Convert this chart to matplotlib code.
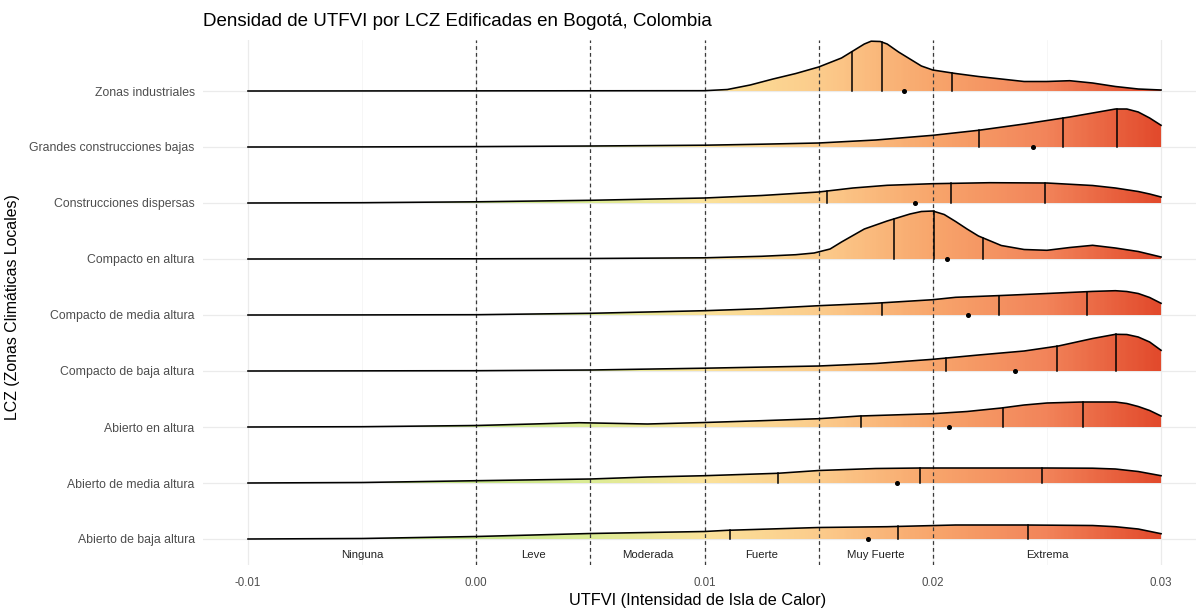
import numpy as np
import matplotlib.pyplot as plt
from matplotlib.colors import LinearSegmentedColormap
from matplotlib.patches import Polygon

plt.rcParams['font.family'] = ['Liberation Sans', 'DejaVu Sans']

# filas de abajo hacia arriba
lcz = ["Abierto de baja altura", "Abierto de media altura", "Abierto en altura",
       "Compacto de baja altura", "Compacto de media altura", "Compacto en altura",
       "Construcciones dispersas", "Grandes construcciones bajas", "Zonas industriales"]

# densidades (alturas relativas, 56 = una fila)
baja_x = [-0.01, -0.005, 0.0, 0.005, 0.010, 0.011, 0.015, 0.018, 0.021, 0.024, 0.027, 0.028, 0.029, 0.030]
baja_h = [0, 0.5, 2.5, 5.5, 7.5, 8.7, 11.5, 12.3, 14, 14, 13.5, 12.3, 10, 5.3]

media_x = [-0.01, -0.005, 0.0, 0.005, 0.0075, 0.010, 0.0132, 0.015, 0.0175, 0.0195, 0.025, 0.027, 0.028, 0.029, 0.030]
media_h = [0, 0.5, 2.3, 4, 6, 7.3, 9.7, 12.5, 14.5, 15, 15, 14.8, 14, 11.5, 7.3]

ab_alt_x = [-0.01, -0.005, 0.0, 0.0025, 0.0045, 0.0075, 0.010, 0.0125, 0.015, 0.0168, 0.020, 0.0215,
            0.023, 0.024, 0.025, 0.0265, 0.028, 0.0285, 0.029, 0.0295, 0.030]
ab_alt_h = [0, 0.3, 1.5, 3, 4.3, 3, 4.5, 6.3, 8.3, 11, 13.3, 15.5, 19, 22, 24, 25, 25, 23.5, 20.5, 16.5, 11]

cp_baja_x = [-0.01, 0.0, 0.005, 0.010, 0.015, 0.0175, 0.020, 0.022, 0.024, 0.0255, 0.027, 0.028,
             0.0285, 0.029, 0.0295, 0.030]
cp_baja_h = [0, 0.3, 1, 2.8, 5, 7.5, 11.7, 16, 20, 25, 32.5, 36.7, 36.5, 34, 29, 20.7]

cp_media_x = [-0.01, -0.005, 0.0, 0.005, 0.010, 0.0125, 0.015, 0.0175, 0.020, 0.021, 0.023, 0.025,
              0.027, 0.028, 0.0285, 0.029, 0.0295, 0.030]
cp_media_h = [0, 0.1, 0.3, 1.7, 4.3, 6.3, 9.3, 11.8, 15.3, 17.7, 19.5, 21.5, 23.6, 24.3, 23.5, 21.5, 17.5, 11.7]

cp_alt_x = [-0.01, 0.0, 0.005, 0.010, 0.0125, 0.014, 0.0148, 0.0155, 0.016, 0.017, 0.018, 0.019, 0.0195,
            0.020, 0.0205, 0.021, 0.0215, 0.022, 0.023, 0.024, 0.025, 0.026, 0.027, 0.028, 0.029, 0.030]
cp_alt_h = [0, 0.2, 0.5, 1.2, 2.7, 4.3, 6, 10, 17, 30, 38, 45, 47.5, 48, 44.5, 37.5, 30, 23, 13.5, 9.5,
            8.7, 11.5, 13.7, 11, 7.5, 2]

disp_x = [-0.01, -0.005, 0.0, 0.005, 0.010, 0.0125, 0.015, 0.0165, 0.018, 0.020, 0.0225, 0.025, 0.027,
          0.028, 0.029, 0.0295, 0.030]
disp_h = [0, 0.3, 1.2, 2.7, 5, 7.5, 11, 15, 17.7, 19.3, 20.3, 20, 17.5, 15, 11.5, 9, 6]

grandes_x = [-0.01, -0.005, 0.0, 0.005, 0.010, 0.0125, 0.015, 0.0175, 0.020, 0.022, 0.024, 0.025, 0.026,
             0.027, 0.028, 0.0285, 0.029, 0.0295, 0.030]
grandes_h = [0, 0.1, 0.4, 1.0, 1.8, 2.8, 4, 7, 11.7, 16.7, 23, 26.5, 30, 34, 38, 38, 35, 29, 21.7]

ind_x = [-0.01, 0.010, 0.011, 0.012, 0.013, 0.014, 0.015, 0.016, 0.0165, 0.017, 0.0173, 0.0177, 0.018,
         0.0185, 0.019, 0.0195, 0.020, 0.021, 0.022, 0.023, 0.024, 0.025, 0.026, 0.027, 0.028, 0.029, 0.030]
ind_h = [0, 0.3, 1.5, 6, 12, 17.5, 24, 33, 40, 47, 49.8, 49.5, 47, 39, 32, 25, 21, 17.5, 14.5, 12, 9.5,
         9.5, 10.3, 8, 4.5, 2, 1]

ridge_x = [baja_x, media_x, ab_alt_x, cp_baja_x, cp_media_x, cp_alt_x, disp_x, grandes_x, ind_x]
ridge_h = [baja_h, media_h, ab_alt_h, cp_baja_h, cp_media_h, cp_alt_h, disp_h, grandes_h, ind_h]

# cuartiles y media por fila (mismo orden)
q1 = [0.01112, 0.01324, 0.01684, 0.02057, 0.01779, 0.01832, 0.01535, 0.02204, 0.01646]
q2 = [0.01849, 0.01943, 0.02306, 0.02543, 0.02292, 0.02007, 0.02079, 0.02572, 0.01776]
q3 = [0.02416, 0.02479, 0.02657, 0.02803, 0.02674, 0.02219, 0.02492, 0.02809, 0.02083]
medias = [0.01717, 0.01841, 0.0207, 0.0236, 0.02156, 0.02064, 0.01922, 0.02439, 0.01874]

cortes = [0.0, 0.005, 0.01, 0.015, 0.02]
clases = ["Ninguna", "Leve", "Moderada", "Fuerte", "Muy Fuerte", "Extrema"]
clases_x = [-0.005, 0.0025, 0.0075, 0.0125, 0.0175, 0.025]

ESC = 56.0
x0, x1 = -0.01, 0.03
stops = [(-0.01, '#a6d96a'), (0.0, '#c8e68a'), (0.005, '#dcec95'), (0.01, '#fbe29a'),
         (0.015, '#fccc8c'), (0.02, '#f8a66c'), (0.025, '#f2845a'), (0.03, '#e24a2c')]
cmap = LinearSegmentedColormap.from_list('utfvi', [((v - x0) / (x1 - x0), c) for v, c in stops])

fig = plt.figure(figsize=(12.04, 6.08), dpi=100)
ax = fig.add_axes([203/1204, 1-565/608, (1196-203)/1204, (565-40)/608])

grad = np.linspace(0, 1, 400).reshape(1, -1)
for i in range(len(lcz)):
    xs = np.array(ridge_x[i])
    hs = np.array(ridge_h[i]) / ESC
    verts = [(x0, i)] + list(zip(xs, i + hs)) + [(x1, i)]
    poly = Polygon(verts, closed=True, facecolor='none', edgecolor='none')
    ax.add_patch(poly)
    im = ax.imshow(grad, cmap=cmap, extent=[x0, x1, i, i + 1], aspect='auto', zorder=2)
    im.set_clip_path(poly)
    ax.plot(xs, i + hs, color='black', lw=1.15, zorder=4, solid_joinstyle='round')
    for q in (q1[i], q2[i], q3[i]):
        ax.plot([q, q], [i, i + np.interp(q, xs, hs)], color='black', lw=1.1, zorder=4)
    ax.plot(medias[i], i, 'o', color='black', ms=2.6, zorder=5)

for c in cortes:
    ax.axvline(c, color='#3a3a3a', lw=0.9, ls=(0, (3, 2.5)), zorder=3)

for t, xv in zip(clases, clases_x):
    ax.text(xv, -0.29, t, ha='center', va='center', fontsize=8.2, color='#222222')

ax.set_xlim(-0.01197, 0.03153)
ax.set_ylim((539-565)/ESC, (539-40)/ESC)
ax.set_xticks([-0.01, 0.0, 0.01, 0.02, 0.03])
ax.set_xticklabels(["-0.01", "0.00", "0.01", "0.02", "0.03"])
ax.set_xticks([-0.005, 0.005, 0.015, 0.025], minor=True)
ax.set_yticks(range(len(lcz)))
ax.set_yticklabels(lcz)
ax.grid(which='major', color='#ebebeb', lw=0.9, zorder=0)
ax.grid(which='minor', axis='x', color='#f3f3f3', lw=0.5, zorder=0)
ax.set_axisbelow(True)
ax.tick_params(which='both', length=0, labelsize=8.3, colors='#4d4d4d')
ax.tick_params(axis='y', labelsize=8.8, pad=6)
ax.tick_params(axis='x', pad=9)
for s in ax.spines.values():
    s.set_visible(False)

fig.text(203/1204, 1-22/608, "Densidad de UTFVI por LCZ Edificadas en Bogotá, Colombia",
         fontsize=13.5, va='center', ha='left')
fig.text(698/1204, 1-600/608, "UTFVI (Intensidad de Isla de Calor)", fontsize=11.8,
         ha='center', va='center')
fig.text(13/1204, 1-307/608, "LCZ (Zonas Climáticas Locales)", fontsize=11.4,
         rotation=90, ha='center', va='center')

fig.savefig('out.png', dpi=100)
